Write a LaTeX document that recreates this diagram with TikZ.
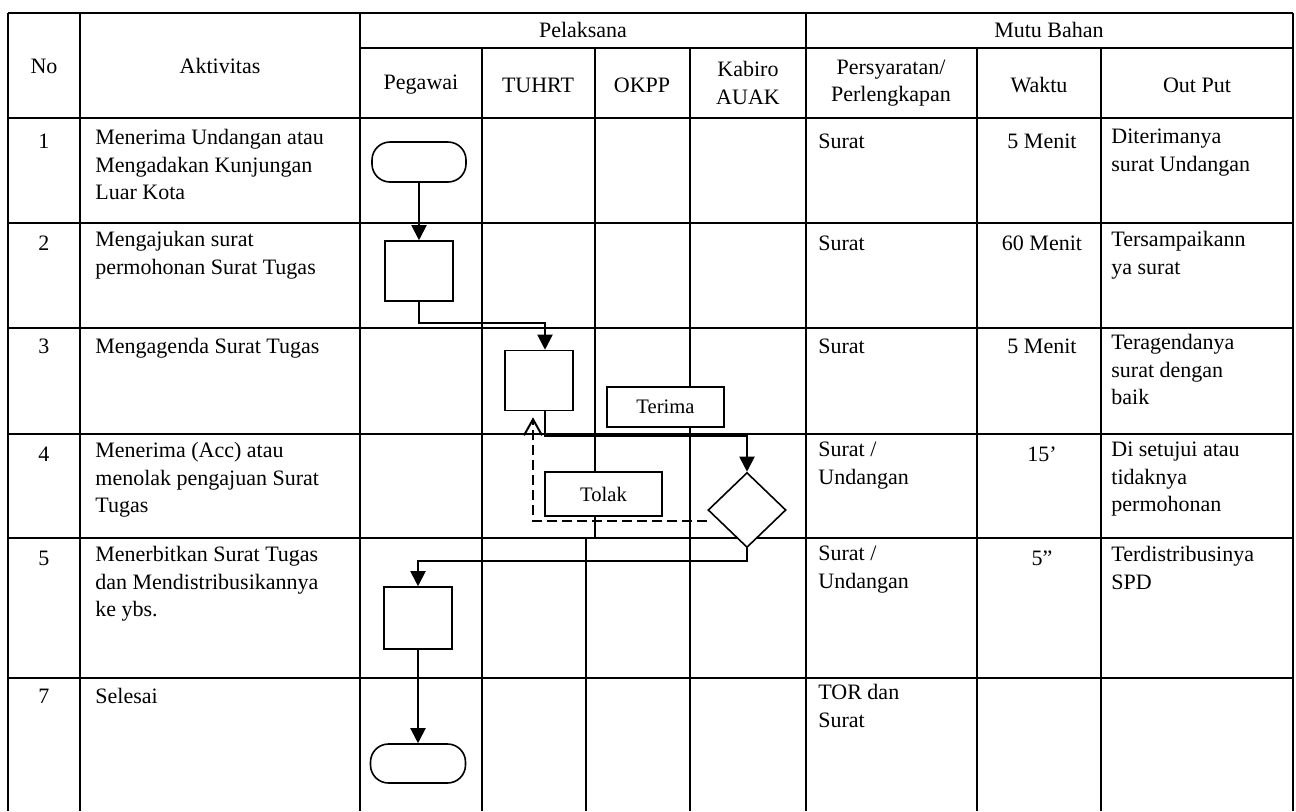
\documentclass[tikz,border=0pt]{standalone}
\usepackage{fontspec}
\setmainfont{Liberation Serif}
\usetikzlibrary{arrows.meta,shapes.geometric}

\begin{document}
\begin{tikzpicture}[
    x=0.5pt, y=-0.5pt,
    font=\fontsize{11}{13.75}\selectfont,
    grid/.style={line width=1pt},
    txt/.style={
		anchor=north west,
		inner sep=0pt,
		align=left,
		execute at begin node=\strut
	},
    num/.style={
		anchor=north,
		inner sep=0pt,
		align=center,
		execute at begin node=\strut
	},
    head/.style={inner sep=0pt, align=center},
    proses/.style={
		rectangle,
		draw=black,
		fill=white,
		line width=0.8pt,
		minimum width=34pt,
		minimum height=30pt,
		inner sep=0pt
	},
    terminal/.style={
		rectangle,
		rounded corners=9pt,
		draw=black,
		fill=white,
		line width=0.8pt,
		minimum width=47pt,
		minimum height=20pt,
		inner sep=0pt
	},
    keputusan/.style={
		diamond,
		draw=black,
		fill=white,
		line width=0.8pt,
		minimum width=39pt,
		minimum height=37.5pt,
		inner sep=0pt
	},
    ket/.style={
		rectangle,
		draw=black,
		fill=white,
		line width=0.8pt,
		minimum width=58.5pt,
		inner sep=0pt,
		font=\fontsize{10.3}{12}\selectfont
	},
    alur/.style={line width=1pt, -{Triangle[length=7.5pt,width=7.5pt]}},
    balik/.style={line width=1pt, dash pattern=on 5pt off 2.5pt, shorten >=3pt,
		-{Straight Barb[length=8pt,width=9pt]}}
  ]
  \useasboundingbox (0,0) rectangle (1296,811);

  % garis tabel
  \draw [grid] (8,13) -- (1293,13);
  \draw [grid] (360,48) -- (1293,48);
  \foreach \y in {118,223,328,434,538,678}
    \draw [grid] (8,\y) -- (1293,\y);
  \foreach \x in {8,80,360,806,1293}
    \draw [grid] (\x,13) -- (\x,811);
  \foreach \x in {482,690,977,1101}
    \draw [grid] (\x,48) -- (\x,811);
  \draw [grid] (595,48) -- (595,538);
  \draw [grid] (586,538) -- (586,811);

  % kepala tabel
  \node [head] (hPel) at (583,30) {Pelaksana};
  \node [head] (hMutu) at (1049,30) {Mutu Bahan};
  \node [head] (hNo) at (44,66) {No};
  \node [head] (hAkt) at (220,66) {Aktivitas};
  \node [head] (hPeg) at (421,85) {Pegawai};
  \node [head] (hTu) at (538,85) {TUHRT};
  \node [head] (hOk) at (642,85) {OKPP};
  \node [head] (hKab) at (748,83) {Kabiro\\AUAK};
  \node [head] (hSyarat) at (891,83) {Persyaratan/\\Perlengkapan};
  \node [head] (hWaktu) at (1039,85) {Waktu};
  \node [head] (hOut) at (1197,85) {Out Put};

  % baris 1
  \node [num] (no1) at (44,129) {1};
  \node [txt] (akt1) at (95,129) {Menerima Undangan atau\\Mengadakan Kunjungan\\Luar Kota};
  \node [txt] (sy1) at (818,129) {Surat};
  \node [num] (wk1) at (1042,129) {5 Menit};
  \node [txt] (out1) at (1111,129) {Diterimanya\\surat Undangan};

  % baris 2
  \node [num] (no2) at (44,231) {2};
  \node [txt] (akt2) at (95,231) {Mengajukan surat\\permohonan Surat Tugas};
  \node [txt] (sy2) at (818,231) {Surat};
  \node [num] (wk2) at (1042,231) {60 Menit};
  \node [txt] (out2) at (1111,231) {Tersampaikann\\ya surat};

  % baris 3
  \node [num] (no3) at (44,334) {3};
  \node [txt] (akt3) at (95,334) {Mengagenda Surat Tugas};
  \node [txt] (sy3) at (818,334) {Surat};
  \node [num] (wk3) at (1042,334) {5 Menit};
  \node [txt] (out3) at (1111,334) {Teragendanya\\surat dengan\\baik};

  % baris 4
  \node [num] (no4) at (44,442) {4};
  \node [txt] (akt4) at (95,442) {Menerima (Acc) atau\\menolak pengajuan Surat\\Tugas};
  \node [txt] (sy4) at (818,442) {Surat /\\Undangan};
  \node [num] (wk4) at (1042,442) {15’};
  \node [txt] (out4) at (1111,442) {Di setujui atau\\tidaknya\\permohonan};

  % baris 5
  \node [num] (no5) at (44,546) {5};
  \node [txt] (akt5) at (95,546) {Menerbitkan Surat Tugas\\dan Mendistribusikannya\\ke ybs.};
  \node [txt] (sy5) at (818,546) {Surat /\\Undangan};
  \node [num] (wk5) at (1042,546) {5”};
  \node [txt] (out5) at (1111,546) {Terdistribusinya\\SPD};

  % baris 7
  \node [num] (no7) at (44,684) {7};
  \node [txt] (akt7) at (95,684) {Selesai};
  \node [txt] (sy7) at (818,684) {TOR dan\\Surat};

  % bagan alir
  \node [terminal] (mulai) at (419,162) {};
  \node [proses] (ajukan) at (419,271) {};
  \node [proses] (agenda) at (539,380.5) {};
  \node [keputusan] (acc) at (747,510) {};
  \node [proses, minimum height=31pt] (terbit) at (418,618) {};
  \node [terminal, minimum width=47.5pt, minimum height=19.5pt] (selesai) at (418,763.5) {};

  \node [ket, minimum height=20pt] (terima) at (665.5,407) {Terima};
  \node [ket, minimum height=22pt] (tolak) at (603.5,494) {Tolak};

  \draw [alur] (mulai) -- (ajukan);
  \draw [alur] (ajukan.south) -- ++(0,21) -| ([xshift=3pt]agenda.north);
  \draw [alur] ([xshift=3pt]agenda.south) -- ++(0,25) -| (acc.north);
  \draw [balik] ([yshift=-5.5pt]acc.west) -| ([xshift=-3pt]agenda.south);
  \draw [alur] (acc.south) -- ++(0,13) -| (terbit.north);
  \draw [alur] (terbit) -- (selesai);

\end{tikzpicture}
\end{document}
